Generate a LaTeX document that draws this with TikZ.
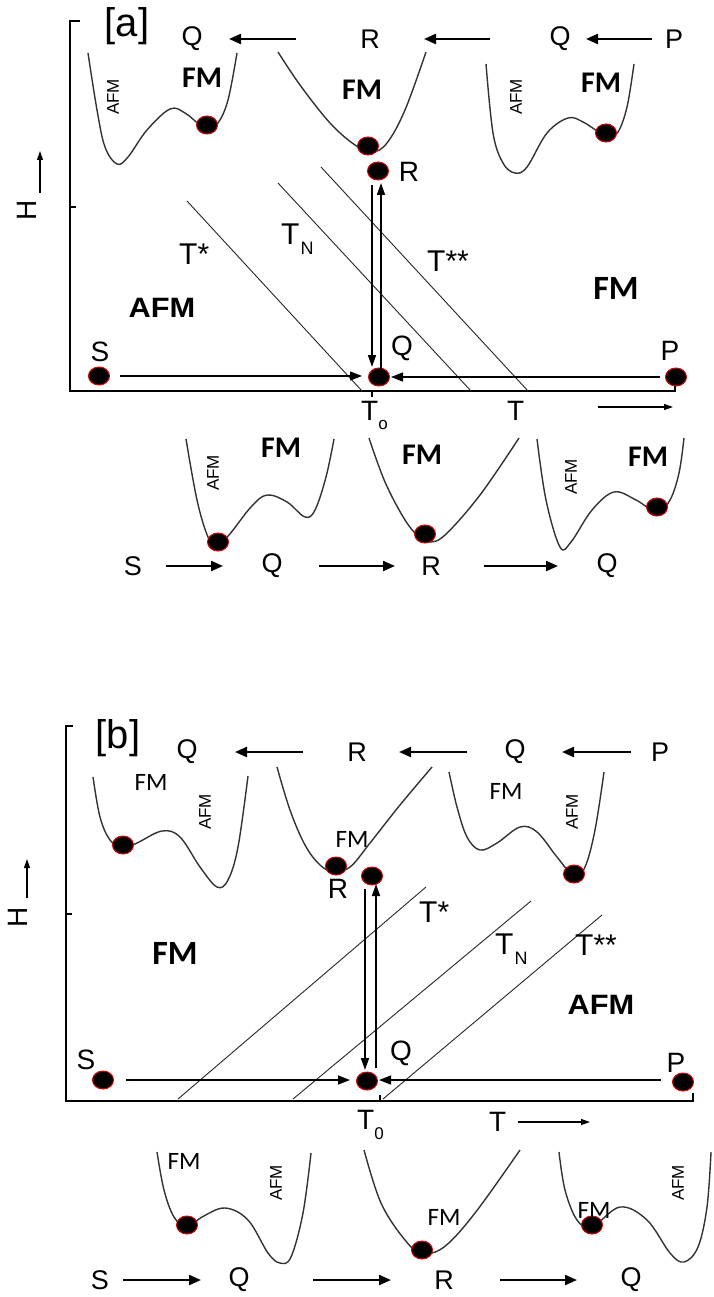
\documentclass[tikz,border=0pt]{standalone}
\usepackage{fontspec}
\setmainfont{Liberation Sans}
\newfontfamily\calfont{Carlito}
\usetikzlibrary{arrows.meta,shapes.geometric}
\tikzset{
  curve/.style={line width=1.4pt, draw=black!80, line join=round},
  phase/.style={line width=0.9pt, draw=black!85},
  axisline/.style={line width=1.5pt},
  arr/.style={line width=2.2pt, -{Triangle[length=12pt,width=10pt]}},
  varr/.style={line width=1.6pt, -{Triangle[length=12pt,width=8pt]}},
  harr/.style={line width=1.3pt, -{Triangle[length=12pt,width=9pt]}},
  tarr/.style={line width=1.2pt, -{Triangle[length=9pt,width=6pt]}},
  ball/.style={ellipse, fill=black, draw=red!85!black, line width=1pt, minimum width=21pt, minimum height=18pt, inner sep=0pt},
  lbl/.style={font=\fontsize{27}{27}\selectfont, inner sep=0pt},
  plbl/.style={font=\fontsize{28}{28}\selectfont, inner sep=0pt},
  tlbl/.style={font=\fontsize{30}{30}\selectfont, inner sep=0pt, anchor=base west},
  brk/.style={font=\fontsize{40}{40}\selectfont, inner sep=0pt},
  fmb/.style={font=\calfont\bfseries\fontsize{30}{30}\selectfont, inner sep=0pt},
  fmbig/.style={font=\calfont\bfseries\fontsize{34}{34}\selectfont, inner sep=0pt},
  fmr/.style={font=\calfont\fontsize{25}{25}\selectfont, inner sep=0pt},
  afmrot/.style={font=\fontsize{17}{17}\selectfont, inner sep=0pt, rotate=90},
  afmb/.style={font=\bfseries\fontsize{28}{28}\selectfont, inner sep=0pt, xscale=1.1},
  hl/.style={font=\fontsize{28}{28}\selectfont, inner sep=0pt, rotate=90},
  t0lbl/.style={font=\fontsize{28}{28}\selectfont, inner sep=0pt, anchor=base west},
}
\begin{document}
\begin{tikzpicture}[x=1pt,y=-1pt]
\fill[white] (0,0) rectangle (713,1297);
\useasboundingbox (0,0) rectangle (713,1297);

%%%%%%%%%%%%%%%%%%%% PANEL A %%%%%%%%%%%%%%%%%%%%
\node[brk] (bra) at (127,26) {[a]};
% top row
\node[lbl] (aTQ1) at (192,39) {Q};
\node[lbl] (aTR) at (370,39) {R};
\node[lbl] (aTQ2) at (560,39) {Q};
\node[lbl] (aTP) at (674,39) {P};
\coordinate (aT1s) at (296,39); \coordinate (aT1e) at (229,39);
\coordinate (aT2s) at (490,39); \coordinate (aT2e) at (424,39);
\coordinate (aT3s) at (652,39); \coordinate (aT3e) at (586,39);
\draw[arr] (aT1s) -- (aT1e);
\draw[arr] (aT2s) -- (aT2e);
\draw[arr] (aT3s) -- (aT3e);
% top wells
\draw[curve] plot[smooth, tension=0.6] coordinates {(88,53) (97,110) (105,147) (117,164) (128,157) (147,130) (170,109) (185,113) (200,125) (208,128) (218,123) (228,100) (237,53)};
\draw[curve] plot[smooth, tension=0.6] coordinates {(278,52) (300,85) (330,123) (355,145) (372,152) (387,143) (405,110) (426,52)};
\draw[curve] plot[smooth, tension=0.6] coordinates {(486,64) (493,133) (503,163) (515,173) (527,167) (547,133) (568,118) (583,122) (600,133) (608,137) (618,132) (627,107) (634,64)};
\node[ball] (aB1) at (207,125) {};
\node[ball] (aB2) at (368,146) {};
\node[ball] (aB3) at (606,133) {};
\node[afmrot] (aAf1) at (113,97) {AFM};
\node[fmb] (aF1) at (202,78) {FM};
\node[fmb] (aF2) at (362,90) {FM};
\node[afmrot] (aAf2) at (516,97) {AFM};
\node[fmb] (aF3) at (601,83) {FM};
% axes
\coordinate (aOrig) at (70,391);
\coordinate (aTop) at (70,21);
\coordinate (aTopT) at (80,21);
\coordinate (aEnd) at (675,391);
\coordinate (aEndT) at (675,383);
\draw[axisline] (aTopT) -- (aTop) -- (aOrig) -- (aEnd) -- (aEndT);
\coordinate (aHt1) at (70,207); \coordinate (aHt2) at (76,207);
\draw[line width=1.2pt] (aHt1) -- (aHt2);
\coordinate (aT0t1) at (372,391); \coordinate (aT0t2) at (372,397);
\draw[line width=1.2pt] (aT0t1) -- (aT0t2);
\node[hl] (aH) at (27,210) {H};
\coordinate (aHa1) at (40,193); \coordinate (aHa2) at (40,151);
\draw[tarr] (aHa1) -- (aHa2);
% phase lines
\coordinate (aL1a) at (187,201); \coordinate (aL1b) at (362,391);
\coordinate (aL2a) at (278,183); \coordinate (aL2b) at (471,391);
\coordinate (aL3a) at (321,167); \coordinate (aL3b) at (528,391);
\draw[phase] (aL1a) -- (aL1b);
\draw[phase] (aL2a) -- (aL2b);
\draw[phase] (aL3a) -- (aL3b);
\node[tlbl] (aTs) at (179,264) {T*};
\node[tlbl] (aTN) at (281,244) {T\kern1pt\raisebox{-10pt}{\fontsize{18}{18}\selectfont N}};
\node[tlbl] (aTss) at (427,271) {T**};
\node[afmb] (aAFM) at (162,308) {AFM};
\node[fmbig] (aFM) at (616,288) {FM};
% points
\node[plbl] (aSl) at (100,352) {S};
\node[plbl] (aQl) at (402,348) {Q};
\node[plbl] (aPl) at (670,351) {P};
\node[ball] (aS) at (99,376) {};
\node[ball] (aQ) at (379,377) {};
\node[ball] (aP) at (676,377) {};
\node[ball] (aR) at (378,171) {};
\node[plbl] (aRl) at (409,172) {R};
\coordinate (aSQs) at (120,376); \coordinate (aSQe) at (362,376);
\coordinate (aPQs) at (660,377); \coordinate (aPQe) at (391,377);
\draw[harr] (aSQs) -- (aSQe);
\draw[harr] (aPQs) -- (aPQe);
\coordinate (aDn1) at (372,185); \coordinate (aDn2) at (372,367);
\coordinate (aUp1) at (381,375); \coordinate (aUp2) at (381,183);
\draw[varr] (aDn1) -- (aDn2);
\draw[varr] (aUp1) -- (aUp2);
% axis labels
\node[t0lbl] (aT0) at (361,420) {T\raisebox{-9pt}{\fontsize{17}{17}\selectfont o}};
\node[t0lbl] (aTT) at (507,420) {T};
\coordinate (aTa1) at (598,407); \coordinate (aTa2) at (673,407);
\draw[tarr] (aTa1) -- (aTa2);
% bottom wells
\draw[curve] plot[smooth, tension=0.6] coordinates {(186,439) (197,500) (208,537) (217,545) (229,535) (251,507) (267,495) (287,502) (305,517) (315,510) (326,477) (334,439)};
\draw[curve] plot[smooth, tension=0.6] coordinates {(369,438) (385,482) (405,520) (420,538) (429,542) (445,535) (480,495) (519,438)};
\draw[curve] plot[smooth, tension=0.6] coordinates {(537,439) (546,500) (560,547) (571,542) (592,510) (614,492) (636,500) (657,512) (670,500) (679,473) (684,438)};
\node[ball] (aB4) at (218,542) {};
\node[ball] (aB5) at (425,534) {};
\node[ball] (aB6) at (657,507) {};
\node[afmrot] (aAf3) at (213,473) {AFM};
\node[fmb] (aF4) at (281,448) {FM};
\node[fmb] (aF5) at (422,455) {FM};
\node[afmrot] (aAf4) at (571,477) {AFM};
\node[fmb] (aF6) at (648,457) {FM};
% bottom row
\node[lbl] (aBS) at (133,566) {S};
\node[lbl] (aBQ1) at (272,566) {Q};
\node[lbl] (aBR) at (431,566) {R};
\node[lbl] (aBQ2) at (607,566) {Q};
\coordinate (aB1s) at (166,566); \coordinate (aB1e) at (223,566);
\coordinate (aB2s) at (319,566); \coordinate (aB2e) at (395,566);
\coordinate (aB3s) at (484,566); \coordinate (aB3e) at (558,566);
\draw[arr] (aB1s) -- (aB1e);
\draw[arr] (aB2s) -- (aB2e);
\draw[arr] (aB3s) -- (aB3e);

%%%%%%%%%%%%%%%%%%%% PANEL B %%%%%%%%%%%%%%%%%%%%
\node[brk] (brb) at (118,738) {[b]};
\node[lbl] (bTQ1) at (187,752) {Q};
\node[lbl] (bTR) at (357,752) {R};
\node[lbl] (bTQ2) at (515,752) {Q};
\node[lbl] (bTP) at (660,752) {P};
\coordinate (bT1s) at (303,752); \coordinate (bT1e) at (235,752);
\coordinate (bT2s) at (467,752); \coordinate (bT2e) at (399,752);
\coordinate (bT3s) at (631,752); \coordinate (bT3e) at (562,752);
\draw[arr] (bT1s) -- (bT1e);
\draw[arr] (bT2s) -- (bT2e);
\draw[arr] (bT3s) -- (bT3e);
% top wells
\draw[curve] plot[smooth, tension=0.6] coordinates {(93,777) (100,817) (110,840) (123,848) (137,843) (162,831) (180,837) (200,867) (217,887) (228,880) (238,847) (248,776)};
\draw[curve] plot[smooth, tension=0.6] coordinates {(277,767) (290,810) (305,845) (320,865) (333,871) (350,867) (370,843) (400,805) (432,767)};
\draw[curve] plot[smooth, tension=0.6] coordinates {(449,772) (457,807) (467,837) (480,850) (497,843) (520,827) (537,832) (557,857) (574,876) (585,867) (595,830) (604,772)};
\node[ball] (bB1) at (123,845) {};
\node[ball] (bB2) at (336,866) {};
\node[ball] (bB3) at (574,874) {};
\node[fmr] (bF1) at (151,782) {FM};
\node[afmrot] (bAf1) at (205,812) {AFM};
\node[fmr] (bF2) at (352,839) {FM};
\node[fmr] (bF3) at (506,791) {FM};
\node[afmrot] (bAf2) at (572,812) {AFM};
\node[plbl] (bRl) at (338,889) {R};
\node[ball] (bR) at (372,876) {};
% axes
\coordinate (bOrig) at (66,1101);
\coordinate (bTop) at (66,726);
\coordinate (bTopT) at (73,726);
\coordinate (bEnd) at (693,1101);
\coordinate (bEndT) at (693,1093);
\draw[axisline] (bTopT) -- (bTop) -- (bOrig) -- (bEnd) -- (bEndT);
\coordinate (bHt1) at (66,914); \coordinate (bHt2) at (72,914);
\draw[line width=1.2pt] (bHt1) -- (bHt2);
\coordinate (bT0t1) at (380,1101); \coordinate (bT0t2) at (380,1095);
\draw[line width=1.2pt] (bT0t1) -- (bT0t2);
\node[hl] (bH) at (18,917) {H};
\coordinate (bHa1) at (27,898); \coordinate (bHa2) at (27,859);
\draw[tarr] (bHa1) -- (bHa2);
% phase lines
\coordinate (bL1a) at (426,887); \coordinate (bL1b) at (178,1099);
\coordinate (bL2a) at (531,901); \coordinate (bL2b) at (293,1099);
\coordinate (bL3a) at (602,915); \coordinate (bL3b) at (383,1099);
\draw[phase] (bL1a) -- (bL1b);
\draw[phase] (bL2a) -- (bL2b);
\draw[phase] (bL3a) -- (bL3b);
\node[tlbl] (bTs) at (419,922) {T*};
\node[tlbl] (bTN) at (495,954) {T\kern1pt\raisebox{-10pt}{\fontsize{18}{18}\selectfont N}};
\node[tlbl] (bTss) at (575,955) {T**};
\node[fmbig] (bFM) at (175,953) {FM};
\node[afmb] (bAFM) at (601,1005) {AFM};
% points
\node[plbl] (bSl) at (86,1060) {S};
\node[plbl] (bQl) at (401,1053) {Q};
\node[plbl] (bPl) at (676,1063) {P};
\node[ball] (bS) at (103,1080) {};
\node[ball] (bQ) at (367,1081) {};
\node[ball] (bP) at (683,1082) {};
\coordinate (bSQs) at (126,1080); \coordinate (bSQe) at (350,1080);
\coordinate (bPQs) at (661,1080); \coordinate (bPQe) at (379,1080);
\draw[harr] (bSQs) -- (bSQe);
\draw[harr] (bPQs) -- (bPQe);
\coordinate (bDn1) at (365,889); \coordinate (bDn2) at (365,1070);
\coordinate (bUp1) at (376,1068); \coordinate (bUp2) at (376,884);
\draw[varr] (bDn1) -- (bDn2);
\draw[varr] (bUp1) -- (bUp2);
% axis labels
\node[t0lbl] (bT0) at (357,1129) {T\raisebox{-10pt}{\fontsize{17}{17}\selectfont 0}};
\node[t0lbl] (bTT) at (489,1131) {T};
\coordinate (bTa1) at (518,1122); \coordinate (bTa2) at (590,1122);
\draw[tarr] (bTa1) -- (bTa2);
% bottom wells
\draw[curve] plot[smooth, tension=0.6] coordinates {(157,1152) (164,1190) (174,1217) (187,1227) (202,1217) (225,1208) (248,1220) (268,1253) (280,1263) (291,1257) (303,1213) (311,1153)};
\draw[curve] plot[smooth, tension=0.6] coordinates {(364,1150) (381,1203) (405,1240) (422,1253) (444,1247) (475,1213) (520,1150)};
\draw[curve] plot[smooth, tension=0.6] coordinates {(559,1152) (565,1190) (577,1220) (592,1227) (620,1207) (647,1220) (670,1253) (684,1262) (698,1247) (707,1207) (711,1152)};
\node[ball] (bB4) at (187,1225) {};
\node[ball] (bB5) at (422,1250) {};
\node[ball] (bB6) at (592,1225) {};
\node[fmr] (bF4) at (184,1161) {FM};
\node[afmrot] (bAf3) at (276,1183) {AFM};
\node[fmr] (bF5) at (444,1217) {FM};
\node[fmr] (bF6) at (594,1210) {FM};
\node[afmrot] (bAf4) at (678,1183) {AFM};
% bottom row
\node[lbl] (bBS) at (100,1280) {S};
\node[lbl] (bBQ1) at (239,1280) {Q};
\node[lbl] (bBR) at (444,1280) {R};
\node[lbl] (bBQ2) at (631,1280) {Q};
\coordinate (bB1s) at (123,1280); \coordinate (bB1e) at (201,1280);
\coordinate (bB2s) at (313,1280); \coordinate (bB2e) at (391,1280);
\coordinate (bB3s) at (500,1280); \coordinate (bB3e) at (577,1280);
\draw[arr] (bB1s) -- (bB1e);
\draw[arr] (bB2s) -- (bB2e);
\draw[arr] (bB3s) -- (bB3e);
\end{tikzpicture}
\end{document}
